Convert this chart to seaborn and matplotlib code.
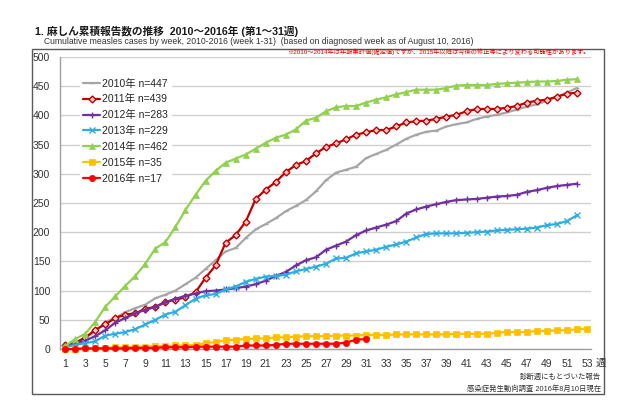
import matplotlib
matplotlib.use("Agg")
import matplotlib.pyplot as plt
import seaborn as sns
import pandas as pd
from matplotlib.patches import Rectangle

sns.set_style("white")
plt.rcParams['font.family'] = ['Liberation Sans', 'Noto Sans CJK JP', 'DejaVu Sans']

weeks_52 = list(range(1, 53))
weeks_53 = list(range(1, 54))
weeks_31 = list(range(1, 32))

y2010 = [6, 10, 19, 29, 46, 53, 63, 70, 76, 87, 93, 100, 111, 122, 137, 152, 167, 173, 190, 205,
         214, 224, 236, 245, 255, 270, 289, 302, 307, 312, 327, 334, 341, 350, 360, 367, 372, 374, 381, 385,
         388, 394, 398, 401, 405, 410, 415, 419, 425, 432, 439, 447]
y2011 = [6, 11, 19, 33, 42, 53, 59, 61, 69, 72, 81, 84, 89, 97, 122, 143, 182, 195, 218, 257,
         273, 286, 303, 315, 322, 335, 346, 352, 359, 367, 371, 375, 375, 381, 388, 390, 391, 394, 398, 401,
         407, 411, 411, 411, 413, 416, 422, 425, 427, 432, 437, 439]
y2012 = [5, 9, 14, 22, 32, 45, 53, 61, 67, 72, 80, 86, 91, 95, 99, 100, 102, 104, 107, 111,
         117, 125, 132, 143, 152, 157, 170, 177, 184, 195, 203, 208, 213, 219, 232, 239, 244, 248, 252, 255,
         256, 257, 259, 261, 262, 264, 269, 272, 276, 279, 281, 283]
y2013 = [3, 7, 10, 13, 23, 26, 29, 34, 42, 50, 59, 64, 75, 86, 92, 94, 102, 107, 115, 120,
         124, 125, 127, 133, 137, 141, 146, 155, 156, 164, 167, 170, 175, 179, 184, 191, 197, 198, 198, 198,
         199, 200, 201, 203, 204, 205, 206, 208, 212, 214, 219, 229]
y2014 = [5, 17, 26, 46, 72, 90, 108, 125, 146, 172, 183, 209, 238, 264, 288, 305, 319, 326, 333, 343,
         353, 362, 367, 376, 391, 396, 407, 414, 416, 416, 422, 427, 431, 436, 440, 444, 444, 444, 447, 451,
         452, 452, 452, 454, 455, 456, 457, 458, 458, 459, 461, 462]
y2015 = [0, 0, 1, 1, 2, 3, 3, 4, 4, 5, 5, 6, 6, 7, 10, 12, 15, 16, 17, 18,
         18, 20, 20, 21, 22, 22, 22, 23, 23, 23, 24, 24, 24, 25, 25, 25, 25, 25, 25, 26,
         26, 26, 26, 28, 29, 29, 29, 31, 31, 32, 32, 34, 35]
y2016 = [0, 0, 1, 1, 1, 1, 1, 2, 2, 2, 3, 3, 3, 4, 4, 4, 4, 4, 6, 6,
         6, 7, 9, 9, 9, 9, 9, 9, 11, 16, 17]

labels = ["2010年 n=447", "2011年 n=439", "2012年 n=283", "2013年 n=229",
          "2014年 n=462", "2015年 n=35", "2016年 n=17"]
y_ticks = [0, 50, 100, 150, 200, 250, 300, 350, 400, 450, 500]

series = [
    (weeks_52, y2010, dict(color="#a6a6a6", marker="_", markersize=3, markerfacecolor="#a6a6a6",
                           markeredgecolor="#a6a6a6", markeredgewidth=1, linewidth=1.6)),
    (weeks_52, y2011, dict(color="#c00000", marker="D", markersize=3.5, markerfacecolor="#f3cccc",
                           markeredgecolor="#c00000", markeredgewidth=1, linewidth=1.6)),
    (weeks_52, y2012, dict(color="#7030a0", marker="+", markersize=5, markerfacecolor="#7030a0",
                           markeredgecolor="#7030a0", markeredgewidth=1, linewidth=1.6)),
    (weeks_52, y2013, dict(color="#2eaee0", marker="x", markersize=4, markerfacecolor="#2eaee0",
                           markeredgecolor="#2eaee0", markeredgewidth=1, linewidth=1.6)),
    (weeks_52, y2014, dict(color="#92d050", marker="^", markersize=5, markerfacecolor="#92d050",
                           markeredgecolor="#92d050", markeredgewidth=0.5, linewidth=1.6)),
    (weeks_53, y2015, dict(color="#ffc000", marker="s", markersize=4.5, markerfacecolor="#ffc000",
                           markeredgecolor="#ffc000", markeredgewidth=0.5, linewidth=1.6)),
    (weeks_31, y2016, dict(color="#ff0000", marker="o", markersize=4.5, markerfacecolor="#ff0000",
                           markeredgecolor="#ff0000", markeredgewidth=0.5, linewidth=1.6)),
]

fig = plt.figure(figsize=(6.4, 4.03), dpi=100)
ax = fig.add_axes([60 / 640, 54 / 403, 531 / 640, 292 / 403])

for (wk, vals, style), lab in zip(series, labels):
    df = pd.DataFrame({"week": wk, "cases": vals})
    sns.lineplot(data=df, x="week", y="cases", ax=ax, label=lab, clip_on=False, zorder=3, **style)

ax.set_xlim(0.5, 53.4)
ax.set_ylim(0, 500)
ax.set_xticks(range(1, 54))
ax.set_xticklabels([str(w) if w % 2 == 1 else "" for w in range(1, 54)])
ax.set_yticks(y_ticks)
ax.set_yticklabels([str(v) for v in y_ticks])
ax.grid(axis="y", color="#d0d0d0", linewidth=1)
ax.set_axisbelow(True)
for s in ["top", "right"]:
    ax.spines[s].set_visible(False)
ax.spines["left"].set_color("#a0a0a0")
ax.spines["bottom"].set_color("#a0a0a0")
ax.spines["left"].set_linewidth(1)
ax.spines["bottom"].set_linewidth(1)
ax.tick_params(axis="x", length=3, width=0.8, color="#a0a0a0", labelsize=7.5, labelcolor="#333333", pad=4)
ax.tick_params(axis="y", length=4, width=0.8, color="#c0c0c0", labelsize=7.5, labelcolor="#333333", pad=3)
ax.set_xlabel("")
ax.set_ylabel("")

leg = ax.legend(loc="upper left", bbox_to_anchor=(0.028, 0.955), frameon=True, fontsize=7.5,
                handlelength=1.6, handletextpad=0.2, labelspacing=0.55, borderpad=0.3)
leg.get_frame().set_facecolor("white")
leg.get_frame().set_edgecolor("white")
leg.get_frame().set_alpha(1)

fig.text(595.5 / 640, 1 - 363 / 403, "週", fontsize=7.5, ha="left", va="center", color="#333333")

# outer frame
fig.patches.append(Rectangle((32 / 640, 9 / 403), 572 / 640, 345 / 403, transform=fig.transFigure,
                             fill=False, edgecolor="#595959", linewidth=1))

fig.text(35 / 640, 1 - 31 / 403, "1. 麻しん累積報告数の推移  2010～2016年 (第1～31週)",
         fontsize=7.7, fontweight="bold", ha="left", va="center", color="#1a1a1a")
fig.text(44 / 640, 1 - 41.5 / 403,
         "Cumulative measles cases by week, 2010-2016 (week 1-31)  (based on diagnosed week as of August 10, 2016)",
         fontsize=6.2, ha="left", va="center", color="#333333")
fig.text(590 / 640, 1 - 52 / 403,
         "※2010～2014年は年報集計値(確定値)ですが、2015年以降は今後の修正等により変わる可能性があります。",
         fontsize=4.5, ha="right", va="center", color="#e00000")
fig.text(601 / 640, 1 - 377 / 403, "診断週にもとづいた報告", fontsize=5.3, ha="right", va="center", color="#333333")
fig.text(601 / 640, 1 - 389 / 403, "感染症発生動向調査 2016年8月10日現在", fontsize=5.3, ha="right", va="center", color="#333333")

fig.savefig("out.png", dpi=100, facecolor="white")
